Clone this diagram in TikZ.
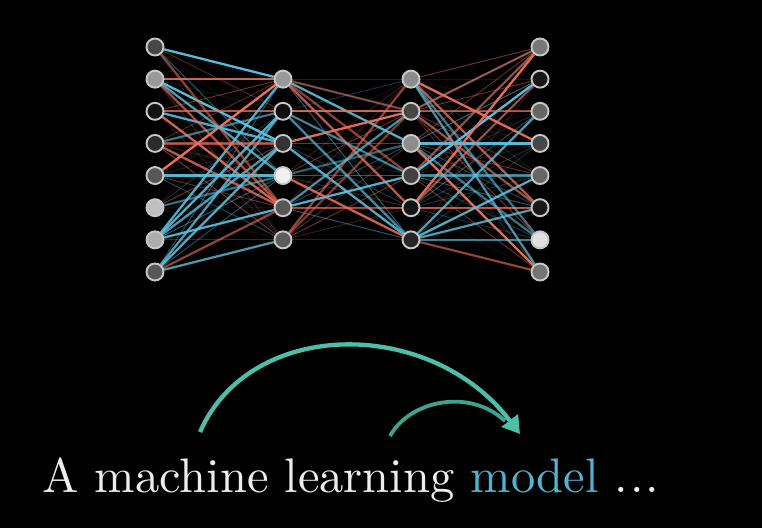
\documentclass[tikz,border=0pt]{standalone}
\usepackage{fontspec}
\usetikzlibrary{arrows.meta}
\newfontfamily\capfont{lmroman10-regular.otf}
\definecolor{wred}{HTML}{EE6F5A}
\definecolor{wblue}{HTML}{58C6E6}
\definecolor{tealA}{HTML}{4DBFA8}
\definecolor{tealB}{HTML}{3FA28C}
\definecolor{modelblue}{HTML}{4FB3D2}
\pgfdeclarelayer{bg}\pgfdeclarelayer{edges}\pgfsetlayers{bg,edges,main}
\begin{document}
\begin{tikzpicture}[x=1pt,y=-1pt,
 neuron/.style={circle,draw=white!78!black,line width=1.9pt,minimum size=17pt,inner sep=0pt},
 faint/.style={line width=1pt},
 strong/.style={line width=2.3pt}]
\begin{pgfonlayer}{bg}\fill[black] (0,0) rectangle (762,528);\end{pgfonlayer}
\useasboundingbox (0,0) rectangle (762,528);
% layers
\foreach \i/\g in {0/28,1/60,2/7,3/17,4/34,5/75,6/68,7/34}
  \node[neuron,fill=white!\g!black] (a\i) at (155,{47+32.14*\i}) {};
\foreach \i/\g in {0/60,1/6,2/20,3/94,4/34,5/36}
  \node[neuron,fill=white!\g!black] (b\i) at (283,{47+32.14*(\i+1)}) {};
\foreach \i/\g in {0/55,1/28,2/55,3/26,4/8,5/15}
  \node[neuron,fill=white!\g!black] (c\i) at (411,{47+32.14*(\i+1)}) {};
\foreach \i/\g in {0/47,1/9,2/40,3/28,4/40,5/10,6/88,7/45}
  \node[neuron,fill=white!\g!black] (d\i) at (540,{47+32.14*\i}) {};
\pgfmathsetseed{12}
\begin{pgfonlayer}{edges}
% faint background weights
\foreach \i in {0,...,7}{\foreach \j in {0,...,5}{
  \pgfmathsetmacro\o{0.08+0.4*rnd}
  \pgfmathtruncatemacro\c{rnd<0.5 ? 1 : 0}
  \ifnum\c=1 \draw[faint,wblue,opacity=\o] (a\i)--(b\j); \else \draw[faint,wred,opacity=\o] (a\i)--(b\j); \fi
}}
\foreach \i in {0,...,5}{\foreach \j in {0,...,5}{
  \pgfmathsetmacro\o{0.08+0.4*rnd}
  \pgfmathtruncatemacro\c{rnd<0.5 ? 1 : 0}
  \ifnum\c=1 \draw[faint,wblue,opacity=\o] (b\i)--(c\j); \else \draw[faint,wred,opacity=\o] (b\i)--(c\j); \fi
}}
\foreach \i in {0,...,5}{\foreach \j in {0,...,7}{
  \pgfmathsetmacro\o{0.08+0.4*rnd}
  \pgfmathtruncatemacro\c{rnd<0.5 ? 1 : 0}
  \ifnum\c=1 \draw[faint,wblue,opacity=\o] (c\i)--(d\j); \else \draw[faint,wred,opacity=\o] (c\i)--(d\j); \fi
}}
% strong weights
\foreach \i/\j/\c/\o in {0/0/wblue/0.95,1/0/wred/0.85,1/2/wblue/0.95,1/3/wblue/0.75,2/1/wred/0.75,2/2/wblue/0.85,
  2/4/wred/0.85,3/4/wred/0.75,4/0/wred/1,4/3/wblue/0.9,6/0/wblue/0.85,6/1/wblue/0.85,6/2/wblue/0.75,
  6/4/wblue/0.85,7/1/wblue/0.75,7/2/wblue/0.85,7/5/wblue/0.75,7/4/wred/0.55,0/4/wred/0.55,1/4/wred/0.65,
  3/1/wblue/0.55,5/3/wblue/0.45,3/2/wred/0.65}
  \draw[strong,\c,opacity=\o] (a\i)--(b\j);
\foreach \i/\j/\c/\o in {0/2/wblue/0.85,0/4/wred/0.75,0/3/wred/0.55,1/1/wred/0.85,2/1/wred/0.95,2/5/wblue/0.85,
  3/5/wred/0.85,4/3/wblue/0.85,4/1/wblue/0.65,4/4/wred/0.65,5/0/wred/0.55,1/3/wblue/0.55,3/2/wblue/0.45,
  1/5/wblue/0.65,5/1/wred/0.45,0/1/wred/0.45}
  \draw[strong,\c,opacity=\o] (b\i)--(c\j);
\foreach \i/\j/\c/\o in {0/3/wred/0.95,0/5/wred/0.75,0/7/wblue/0.65,2/3/wblue/0.95,2/7/wred/0.95,2/6/wblue/0.55,
  3/1/wblue/0.95,3/0/wred/0.55,4/0/wred/0.95,4/5/wred/0.75,5/2/wblue/0.75,5/4/wblue/0.85,5/5/wblue/0.75,
  5/6/wblue/0.65,5/7/wred/0.55,1/0/wred/0.55,1/2/wred/0.65,4/1/wred/0.55,3/4/wblue/0.65,1/5/wred/0.55,0/6/wblue/0.55}
  \draw[strong,\c,opacity=\o] (c\i)--(d\j);
\end{pgfonlayer}
% arrows
\coordinate (s1) at (200,432);
\coordinate (t1) at (520,434);
\coordinate (s2) at (390,436);
\coordinate (t2) at (505,421);
\draw[tealB,line width=3.8pt] (s2) .. controls (410,400) and (470,388) .. (t2);
\draw[tealA,line width=4.3pt,-{Triangle[length=17pt,width=20pt]}] (s1) .. controls (250,318) and (430,316) .. (t1);
% caption
\node[anchor=base west,font=\capfont\fontsize{48.5}{58}\selectfont,text=white!93!black,inner sep=0pt] (cap) at (42,492)
  {A machine learning \textcolor{modelblue}{model} .\kern2pt.\kern2pt.};
\end{tikzpicture}
\end{document}
